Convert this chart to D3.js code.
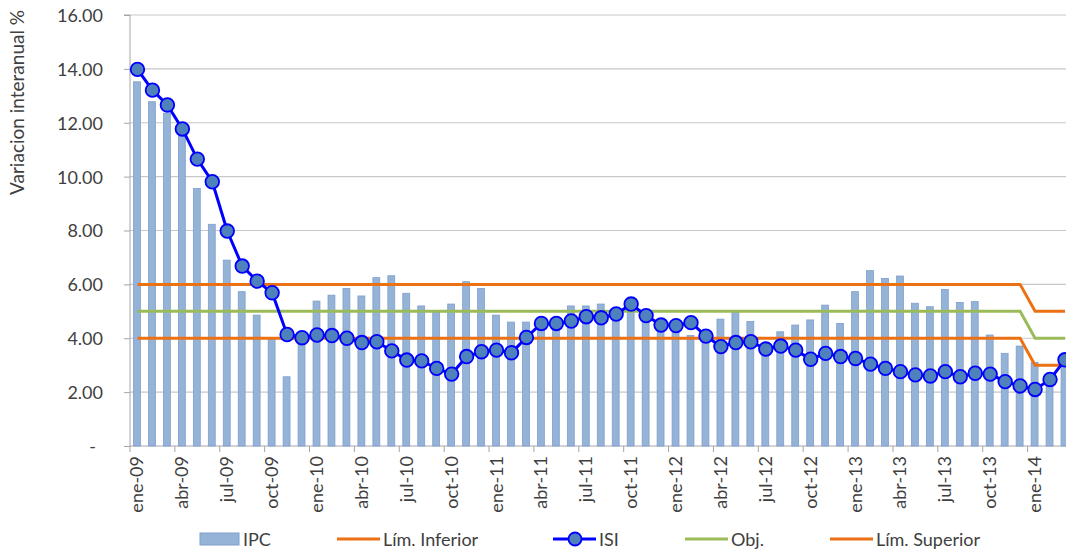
<!DOCTYPE html>
<html><head><meta charset="utf-8">
<script src="https://cdn.jsdelivr.net/npm/d3@7/dist/d3.min.js"></script>
<style>body{margin:0;background:#fff}svg{display:block}text{font-family:Lato,"Open Sans",sans-serif;fill:#333}</style>
</head><body><svg id="c" width="1066" height="551"></svg>
<script>
const months = ["ene","feb","mar","abr","may","jun","jul","ago","sep","oct","nov","dic"];
const years = ["09","10","11","12","13","14"];
const categories = [];
years.forEach(y => months.forEach(m => categories.push(m + "-" + y)));
categories.splice(63);

const ipc = [13.52,12.78,12.35,11.6,9.56,8.23,6.9,5.73,4.86,3.95,2.57,3.8,
  5.38,5.6,5.85,5.57,6.25,6.32,5.67,5.2,4.96,5.27,6.1,5.85,
  4.86,4.6,4.6,4.5,4.6,5.2,5.2,5.27,4.95,5.1,5.07,4.5,
  4.4,4.1,4.0,4.71,4.95,4.62,3.6,4.24,4.49,4.68,5.23,4.55,
  5.73,6.51,6.22,6.31,5.3,5.17,5.81,5.33,5.36,4.12,3.44,3.71,
  3.1,2.6,2.95];
const isi = [13.98,13.21,12.66,11.77,10.65,9.81,7.98,6.68,6.12,5.69,4.14,4.02,
  4.12,4.1,4.0,3.84,3.87,3.53,3.19,3.16,2.88,2.67,3.32,3.5,
  3.56,3.46,4.03,4.55,4.55,4.64,4.8,4.76,4.9,5.27,4.84,4.49,
  4.47,4.58,4.08,3.69,3.84,3.87,3.6,3.71,3.56,3.22,3.44,3.32,
  3.25,3.04,2.88,2.76,2.64,2.6,2.76,2.57,2.7,2.67,2.39,2.23,
  2.1,2.47,3.2];
const limInf = categories.map((c,i) => i < 60 ? 4 : 3);
const obj = categories.map((c,i) => i < 60 ? 5 : 4);
const limSup = categories.map((c,i) => i < 60 ? 6 : 5);
const yTicks = [0,2,4,6,8,10,12,14,16];
const yTickLabels = ["-","2.00","4.00","6.00","8.00","10.00","12.00","14.00","16.00"];
const xLabelCats = categories.filter((c,i) => i % 3 === 0);
const legendItems = ["IPC","Lím. Inferior","ISI","Obj.","Lím. Superior"];

const svg = d3.select("#c");
const L = 130, T = 15, B = 446;
const x = d3.scaleBand().domain(categories).range([L, L + 63*14.96]).padding(0);
const y = d3.scaleLinear().domain([0,16]).range([B, T]);
const cx = c => x(c) + x.bandwidth()/2;
const FS = 18;

// grid
svg.append("g").selectAll("line").data(yTicks.filter(v => v > 0)).join("line")
  .attr("x1", L).attr("x2", 1066).attr("y1", d => y(d)).attr("y2", d => y(d))
  .attr("stroke", "#c8c8c8").attr("stroke-width", 1.2);

// y axis
const yAxis = svg.append("g").attr("transform", `translate(${L},0)`)
  .call(d3.axisLeft(y).tickValues(yTicks).tickSize(6).tickFormat((d,i) => yTickLabels[i]));
yAxis.select(".domain").attr("stroke", "#a6a6a6").attr("d", `M-6,${T}H0V${B}`);
yAxis.selectAll(".tick line").attr("stroke", "#a6a6a6");
yAxis.selectAll(".tick text").attr("x", d => d === 0 ? -34 : -27).attr("dy", "0.36em")
  .style("font-size", FS + "px").style("fill", "#404040").attr("font-family", "Lato");

// x axis
svg.append("line").attr("x1", L).attr("x2", 1066).attr("y1", B).attr("y2", B).attr("stroke", "#a6a6a6");
svg.append("g").selectAll("line").data(xLabelCats).join("line")
  .attr("x1", d => x(d)).attr("x2", d => x(d)).attr("y1", B).attr("y2", B + 6)
  .attr("stroke", "#a6a6a6");
svg.append("g").selectAll("text").data(xLabelCats).join("text")
  .attr("transform", d => `translate(${cx(d) + 6},${B + 10}) rotate(-90)`)
  .attr("text-anchor", "end").style("font-size", FS + "px").style("fill", "#404040").text(d => d);

// y title
svg.append("text").attr("transform", `translate(24,${T - 5}) rotate(-90)`)
  .attr("text-anchor", "end").style("font-size", "19px").style("fill", "#404040").text("Variacion interanual %");

// bars
const bw = 6.9;
svg.append("g").selectAll("rect").data(ipc).join("rect")
  .attr("x", (d,i) => cx(categories[i]) - bw/2 - 0.5).attr("width", bw)
  .attr("y", d => y(d)).attr("height", d => B - y(d))
  .attr("fill", "#95b3d7").attr("stroke", "#7d9fcc").attr("stroke-width", 0.8);

const line = d3.line().x((d,i) => cx(categories[i])).y(d => y(d));
svg.append("path").datum(limInf).attr("d", line).attr("fill", "none").attr("stroke", "#ec7014").attr("stroke-width", 3);
svg.append("path").datum(obj).attr("d", line).attr("fill", "none").attr("stroke", "#9bbb59").attr("stroke-width", 3);
svg.append("path").datum(limSup).attr("d", line).attr("fill", "none").attr("stroke", "#ec7014").attr("stroke-width", 3);

svg.append("path").datum(isi).attr("d", line).attr("fill", "none").attr("stroke", "#0000ff").attr("stroke-width", 3);
svg.append("g").selectAll("circle").data(isi).join("circle")
  .attr("cx", (d,i) => cx(categories[i])).attr("cy", d => y(d)).attr("r", 6.8)
  .attr("fill", "#4f81bd").attr("stroke", "#0000ff").attr("stroke-width", 1.8);

// legend
const lg = svg.append("g").attr("transform", "translate(0,539)");
const lx = [200, 337, 553, 685, 830];
legendItems.forEach((name, i) => {
  const g = lg.append("g").attr("transform", `translate(${lx[i]},0)`);
  if (i === 0) {
    g.append("rect").attr("x", 0).attr("y", -6).attr("width", 39).attr("height", 12)
      .attr("fill", "#95b3d7").attr("stroke", "#7d9fcc");
  } else {
    const col = i === 2 ? "#0000ff" : (i === 3 ? "#9bbb59" : "#ec7014");
    g.append("line").attr("x1", 0).attr("x2", 43).attr("stroke", col).attr("stroke-width", 3);
    if (i === 2) g.append("circle").attr("cx", 22).attr("r", 6.5).attr("fill", "#4f81bd").attr("stroke", "#0000ff").attr("stroke-width", 1.8);
  }
  g.append("text").attr("x", i === 0 ? 43 : 46).attr("y", 7).style("font-size", FS + "px").style("fill", "#404040").text(name);
});
</script></body></html>
